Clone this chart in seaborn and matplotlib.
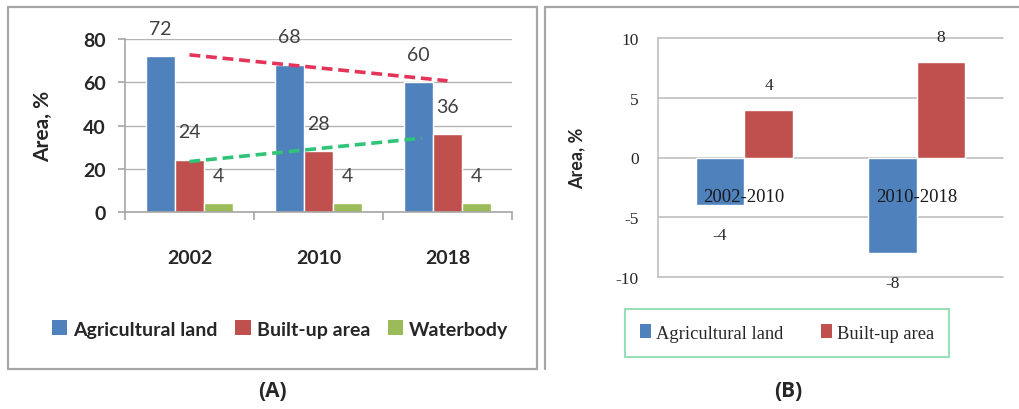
import numpy as np
import pandas as pd
import matplotlib
matplotlib.use("Agg")
import matplotlib.pyplot as plt
import matplotlib.transforms as mtransforms
import seaborn as sns
from matplotlib.patches import Rectangle, Patch
from matplotlib.lines import Line2D

# ---------------- data ----------------
years = ["2002", "2010", "2018"]
agricultural = [72, 68, 60]
built_up = [24, 28, 36]
waterbody = [4, 4, 4]
series_a = ["Agricultural land", "Built-up area", "Waterbody"]

periods = ["2002-2010", "2010-2018"]
agri_change = [-4, -8]
built_change = [4, 8]
series_b = ["Agricultural land", "Built-up area"]

yticks_a = [0, 20, 40, 60, 80]
yticks_b = [-10, -5, 0, 5, 10]

colors = ["#4f81bd", "#c0504d", "#9bbb59"]

sns.set_theme(style="white")
plt.rcParams["font.family"] = ["Lato", "DejaVu Sans"]
plt.rcParams["axes.unicode_minus"] = False

fig = plt.figure(figsize=(10.19, 4.10), dpi=100)

# ---------------- panel frames ----------------
fig.add_artist(Rectangle((8 / 1019, 1 - 370 / 410), 529 / 1019, 362 / 410,
                         transform=fig.transFigure, fill=False,
                         edgecolor="#a6a6a6", lw=1.6))
fig.add_artist(Line2D([545 / 1019, 545 / 1019], [1 - 370 / 410, 1 - 8 / 410],
                      transform=fig.transFigure, color="#a6a6a6", lw=1.6))
fig.add_artist(Line2D([545 / 1019, 1.0], [1 - 8 / 410, 1 - 8 / 410],
                      transform=fig.transFigure, color="#a6a6a6", lw=1.6))

# ---------------- panel A ----------------
df_a = pd.DataFrame({
    "year": years * 3,
    "value": agricultural + built_up + waterbody,
    "series": [s for s in series_a for _ in years],
})
axA = fig.add_axes([125 / 1019, 1 - 213 / 410, 387 / 1019, 173 / 410])
sns.barplot(data=df_a, x="year", y="value", hue="series", order=years,
            hue_order=series_a, palette=colors, width=0.675, saturation=1,
            legend=False, ax=axA, zorder=2)
axA.set_ylim(0, 80)
axA.set_xlim(-0.5, 2.5)
axA.set_yticks(yticks_a)
axA.yaxis.grid(True, color="#b3b3b3", lw=1)
axA.set_axisbelow(True)
for s in ["top", "right"]:
    axA.spines[s].set_visible(False)
for s in ["left", "bottom"]:
    axA.spines[s].set_color("#a6a6a6")
    axA.spines[s].set_linewidth(1.2)
axA.set_xticks([-0.5, 0.5, 1.5, 2.5], minor=True)
axA.tick_params(axis="x", which="minor", length=6, color="#a6a6a6", width=1.2, bottom=True)
axA.tick_params(axis="x", which="major", length=0, pad=27,
                labelsize=14)
axA.tick_params(axis="y", length=5, color="#a6a6a6", width=1.2, left=True, pad=9,
                labelsize=14)
for lab in axA.get_xticklabels() + axA.get_yticklabels():
    lab.set_fontweight("bold")
    lab.set_color("#262626")
axA.set_xlabel("")
axA.set_ylabel("Area, %", fontsize=15, fontweight="bold", color="#262626")
axA.yaxis.set_label_coords(-0.186, 0.5)

for cont in axA.containers:
    for bar in cont:
        h = bar.get_height()
        axA.text(bar.get_x() + bar.get_width() / 2, h + 13, f"{h:g}",
                 ha="center", va="center", fontsize=14, color="#404040")

# linear trend lines
xs = np.arange(len(years))
for vals, col, xend in [(agricultural, "#e4345a", 2.0), (built_up, "#2fc476", 1.8)]:
    k, b = np.polyfit(xs, vals, 1)
    xx = np.array([0.0, xend])
    axA.plot(xx, k * xx + b, color=col, lw=2.6, ls=(0, (3, 1.6)), zorder=4)

handlesA = [Patch(facecolor=c, edgecolor="none") for c in colors]
fig.legend(handlesA, series_a, loc="center", bbox_to_anchor=(280 / 1019, 1 - 330 / 410),
           ncol=3, frameon=False, handlelength=0.8, handleheight=0.8,
           handletextpad=0.3, columnspacing=0.9,
           prop={"family": ["Lato"], "weight": "bold", "size": 14})

fig.text(272 / 1019, 1 - 392 / 410, "(A)", ha="center", va="center",
         fontsize=15, fontweight="bold", family=["Open Sans"])

# ---------------- panel B ----------------
df_b = pd.DataFrame({
    "period": periods * 2,
    "value": agri_change + built_change,
    "series": [s for s in series_b for _ in periods],
})
axB = fig.add_axes([658 / 1019, 1 - 278 / 410, 345 / 1019, 239 / 410])
sns.barplot(data=df_b, x="period", y="value", hue="series", order=periods,
            hue_order=series_b, palette=colors[:2], width=0.565, saturation=1,
            legend=False, ax=axB, zorder=2)
axB.set_ylim(-10, 10)
axB.set_xlim(-0.5, 1.5)
axB.set_yticks(yticks_b)
axB.yaxis.grid(True, color="#bfbfbf", lw=1.2, clip_on=False)
axB.set_axisbelow(True)
for s in ["top", "right", "bottom"]:
    axB.spines[s].set_visible(False)
axB.spines["left"].set_color("#bfbfbf")
axB.spines["left"].set_linewidth(1.2)
axB.tick_params(axis="x", length=0, labelbottom=False)
axB.tick_params(axis="y", length=0, pad=14)
for lab in axB.get_yticklabels():
    lab.set_family(["Liberation Serif"])
    lab.set_fontsize(12.5)
    lab.set_color("#262626")
axB.set_xlabel("")
axB.set_ylabel("Area, %", fontsize=13, fontweight="bold", color="#262626")
axB.yaxis.set_label_coords(-0.21, 0.5)

# category labels sit just under the zero line, drawn above the bars
cat_tr = mtransforms.offset_copy(axB.transData, fig=fig, y=-39, units="dots")
for i, p in enumerate(periods):
    axB.text(i, 0, p, transform=cat_tr, ha="center", va="center",
             fontsize=13.5, color="#1a1a1a", family=["Liberation Serif"], zorder=6)

for cont in axB.containers:
    for bar in cont:
        h = bar.get_height()
        off = 2.1 if h >= 0 else -2.5
        axB.text(bar.get_x() + bar.get_width() / 2, h + off, f"{h:g}",
                 ha="center", va="center", fontsize=12.5, color="#262626",
                 family=["Liberation Serif"])

handlesB = [Patch(facecolor=c, edgecolor="none") for c in colors[:2]]
legB = fig.legend(handlesB, series_b, loc="center",
                  bbox_to_anchor=(787 / 1019, 1 - 334 / 410),
                  ncol=2, frameon=True, fancybox=False, handlelength=0.6,
                  handleheight=0.8, handletextpad=0.3, columnspacing=2.0,
                  borderpad=0.8, borderaxespad=0,
                  prop={"family": ["Liberation Serif"], "size": 13.3})
legB.get_frame().set_edgecolor("#7fd8a6")
legB.get_frame().set_linewidth(1.5)

fig.text(788 / 1019, 1 - 392 / 410, "(B)", ha="center", va="center",
         fontsize=15, fontweight="bold", family=["Open Sans"])

fig.savefig("out.png", dpi=100)
